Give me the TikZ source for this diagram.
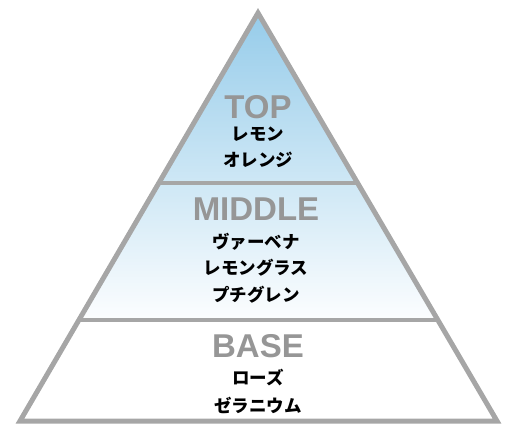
\documentclass[tikz,border=0pt]{standalone}
\usepackage{fontspec}
\setmainfont{Liberation Sans}
\newfontfamily\cjk{Noto Sans CJK JP}
\usetikzlibrary{calc}
\definecolor{edgegray}{RGB}{166,166,166}
\definecolor{sky}{RGB}{150,204,234}
\definecolor{titlegray}{RGB}{150,150,150}
\begin{document}
\begin{tikzpicture}[x=1pt,y=-1pt,
  title/.style={font=\fontsize{33}{33}\selectfont\bfseries, text=titlegray, inner sep=0pt},
  item/.style={font=\cjk\fontsize{17.5}{17.5}\selectfont\bfseries, text=black, inner sep=0pt},
  divider/.style={draw=edgegray, line width=4pt},
  outline/.style={draw=edgegray, line width=5pt, line join=miter}]
\useasboundingbox (0,0) rectangle (509,430);
\coordinate (A) at (258,13);
\coordinate (L) at (20,421);
\coordinate (R) at (497,421);
\coordinate (L1) at ($(A)!0.4167!(L)$);
\coordinate (R1) at ($(A)!0.4167!(R)$);
\coordinate (L2) at ($(A)!0.7525!(L)$);
\coordinate (R2) at ($(A)!0.7525!(R)$);
\shade[top color=sky, bottom color=white!97!sky] (A) -- (L2) -- (R2) -- cycle;
\path[divider] (L1) -- (R1);
\path[divider] (L2) -- (R2);
\path[outline] (A) -- (L) -- (R) -- cycle;
\node[title] (top) at (258,107) {TOP};
\node[item] (t1) at (258,134) {レモン};
\node[item] (t2) at (258,160) {オレンジ};
\node[title] (mid) at (256,209) {MIDDLE};
\node[item] (m1) at (256,242) {ヴァーベナ};
\node[item] (m2) at (256,268) {レモングラス};
\node[item] (m3) at (256,295) {プチグレン};
\node[title] (base) at (258,346) {BASE};
\node[item] (b1) at (258,378) {ローズ};
\node[item] (b2) at (258,405) {ゼラニウム};
\end{tikzpicture}
\end{document}
